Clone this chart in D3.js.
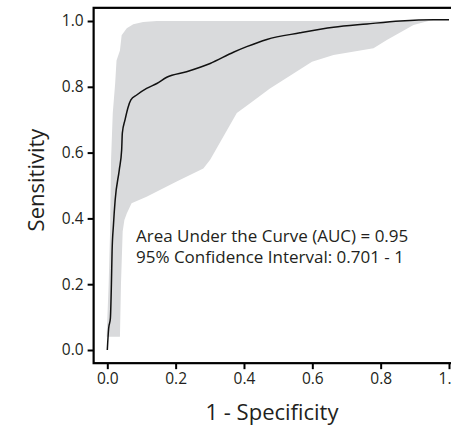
<!DOCTYPE html>
<html>
<head>
<meta charset="utf-8">
<script src="https://cdn.jsdelivr.net/npm/d3@7"></script>
<style>
  body { margin: 0; background: #fff; }
  text { font-family: "Open Sans", sans-serif; fill: #231f20; }
</style>
</head>
<body>
<div id="roc"></div>
<script>
// ROC curve (1 - specificity, sensitivity)
var rocFpr = [0, 0.004, 0.009, 0.012, 0.014, 0.018, 0.023, 0.035, 0.042, 0.044, 0.052, 0.06, 0.069, 0.086, 0.115, 0.145, 0.174, 0.232, 0.301, 0.369, 0.408, 0.467, 0.564, 0.662, 0.76, 0.857, 0.955, 1.0];
var rocTpr = [0, 0.066, 0.096, 0.2, 0.3, 0.38, 0.456, 0.547, 0.608, 0.659, 0.7, 0.735, 0.76, 0.775, 0.795, 0.81, 0.829, 0.846, 0.871, 0.905, 0.922, 0.944, 0.964, 0.981, 0.991, 1.0, 1.004, 1.004];

// confidence band, upper (left) edge, bottom to top
var ciUpFpr = [-0.002, 0.004, 0.008, 0.011, 0.016, 0.023, 0.027, 0.037, 0.042, 0.057, 0.076, 0.105, 0.145, 0.94];
var ciUpTpr = [0.04, 0.2, 0.355, 0.578, 0.72, 0.81, 0.88, 0.91, 0.957, 0.978, 0.99, 0.997, 1.0, 1.0];

// confidence band, lower (right) edge, bottom to top
var ciLoFpr = [0.037, 0.04, 0.045, 0.05, 0.057, 0.071, 0.115, 0.203, 0.281, 0.301, 0.379, 0.418, 0.476, 0.599, 0.662, 0.779, 0.818, 0.896, 0.94];
var ciLoTpr = [0.04, 0.2, 0.36, 0.395, 0.415, 0.446, 0.466, 0.512, 0.552, 0.578, 0.72, 0.75, 0.795, 0.876, 0.897, 0.917, 0.942, 0.988, 1.0];

var ticks = [0, 0.2, 0.4, 0.6, 0.8, 1.0];
var aucLines = ["Area Under the Curve (AUC) = 0.95", "95% Confidence Interval: 0.701 - 1"];

var width = 451, height = 426;

var x = d3.scaleLinear().domain([0, 1]).range([107.3, 449]);
var y = d3.scaleLinear().domain([0, 1]).range([350, 21]);

var svg = d3.select("#roc")
  .append("svg")
  .attr("width", width)
  .attr("height", height);

// confidence band
var band = [];
for (var i = 0; i < ciUpFpr.length; i++) band.push([ciUpFpr[i], ciUpTpr[i]]);
for (var j = ciLoFpr.length - 1; j >= 0; j--) band.push([ciLoFpr[j], ciLoTpr[j]]);

svg.append("path")
  .datum(band)
  .attr("fill", "#d9dadc")
  .attr("d", d3.line().x(function (d) { return x(d[0]); }).y(function (d) { return y(d[1]); }));

// roc line
var roc = rocFpr.map(function (f, k) { return [f, rocTpr[k]]; });
svg.append("path")
  .datum(roc)
  .attr("fill", "none")
  .attr("stroke", "#111")
  .attr("stroke-width", 1.5)
  .attr("d", d3.line().curve(d3.curveMonotoneX)
    .x(function (d) { return x(d[0]); }).y(function (d) { return y(d[1]); }));

// frame (right side runs off the picture)
svg.append("rect")
  .attr("x", x(-0.04))
  .attr("y", y(1.04))
  .attr("width", x(1.1) - x(-0.04))
  .attr("height", y(-0.04) - y(1.04))
  .attr("fill", "none")
  .attr("stroke", "#000")
  .attr("stroke-width", 2.2);

// axes
var xAxis = svg.append("g")
  .attr("transform", "translate(0," + y(-0.04) + ")")
  .call(d3.axisBottom(x).tickValues(ticks).tickFormat(d3.format(".1f")).tickSize(6).tickPadding(4));
var yAxis = svg.append("g")
  .attr("transform", "translate(" + x(-0.04) + ",0)")
  .call(d3.axisLeft(y).tickValues(ticks).tickFormat(d3.format(".1f")).tickSize(6).tickPadding(4));

[xAxis, yAxis].forEach(function (g) {
  g.select(".domain").remove();
  g.selectAll(".tick line").attr("stroke", "#000").attr("stroke-width", 2);
  g.selectAll(".tick text").style("font-size", "15.5px").attr("fill", "#231f20");
});

// axis titles
svg.append("text")
  .attr("x", 272)
  .attr("y", 420)
  .attr("text-anchor", "middle")
  .style("font-size", "22px")
  .text("1 - Specificity");

svg.append("text")
  .attr("transform", "translate(44,180) rotate(-90)")
  .attr("text-anchor", "middle")
  .style("font-size", "22px")
  .text("Sensitivity");

// auc annotation
svg.append("g")
  .selectAll("text")
  .data(aucLines)
  .enter()
  .append("text")
  .attr("x", 136)
  .attr("y", function (d, k) { return 241.5 + k * 21.5; })
  .style("font-size", "17px")
  .text(function (d) { return d; });
</script>
</body>
</html>
